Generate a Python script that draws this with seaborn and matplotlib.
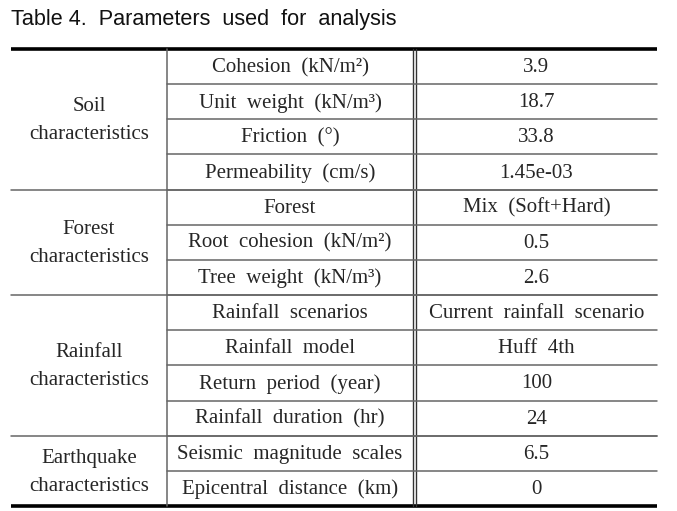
import seaborn as sns
import matplotlib
matplotlib.use("Agg")
from matplotlib import pyplot as plt

# table content
groups = ["Soil\ncharacteristics", "Forest\ncharacteristics",
          "Rainfall\ncharacteristics", "Earthquake\ncharacteristics"]
group_sizes = [4, 3, 4, 2]
params = ["Cohesion  (kN/m\u00b2)", "Unit  weight  (kN/m\u00b3)", "Friction  (\u00b0)",
          "Permeability  (cm/s)", "Forest", "Root  cohesion  (kN/m\u00b2)",
          "Tree  weight  (kN/m\u00b3)", "Rainfall  scenarios", "Rainfall  model",
          "Return  period  (year)", "Rainfall  duration  (hr)",
          "Seismic  magnitude  scales", "Epicentral  distance  (km)"]
values = ["3.9", "18.7", "33.8", "1.45e-03", "Mix  (Soft+Hard)", "0.5", "2.6",
          "Current  rainfall  scenario", "Huff  4th", "100", "24", "6.5", "0"]
title = "Table 4.  Parameters  used  for  analysis"

sns.set_theme(style="white")
plt.rcParams['font.family'] = ['Liberation Serif', 'DejaVu Serif']

fig = plt.figure(figsize=(6.77, 5.11), dpi=100)
ax = fig.add_axes([0, 0, 1, 1])
ax.set_xlim(0, 677)
ax.set_ylim(511, 0)
ax.axis("off")

# layout
x0, x1, x2a, x2b, x3 = 11, 167, 413, 416, 657
top, bottom = 49, 506
n = len(params)
rh = (bottom - top) / n
fs = 15
inner = "#666666"

ax.text(x0, 20, title, fontsize=15.6, family="Liberation Sans", va="center", ha="left",
        color="#111111")

ax.plot([x0, x3], [top, top], color="black", lw=2.6, solid_capstyle="butt")
ax.plot([x0, x3], [bottom, bottom], color="black", lw=2.6, solid_capstyle="butt")
ax.plot([x1, x1], [top, bottom], color=inner, lw=1.1)
ax.plot([x2a, x2a], [top, bottom], color="#333333", lw=1.0)
ax.plot([x2b, x2b], [top, bottom], color="#333333", lw=1.0)

for i, (p, v) in enumerate(zip(params, values)):
    yc = top + (i + 0.5) * rh + 1
    ax.text((x1 + x2a) / 2, yc, p, fontsize=fs, ha="center", va="center")
    ax.text((x2b + x3) / 2, yc, v, fontsize=fs, ha="center", va="center")
    if i > 0:
        y = top + i * rh
        ax.plot([x1, x3], [y, y], color=inner, lw=1.1)

start = 0
for g, k in zip(groups, group_sizes):
    yc = top + (start + k / 2) * rh + 1.5
    ax.text((x0 + x1) / 2, yc, g, fontsize=fs, ha="center", va="center", linespacing=1.65)
    if start > 0:
        y = top + start * rh
        ax.plot([x0, x3], [y, y], color=inner, lw=1.1)
    start += k

fig.savefig("out.png", dpi=100)
